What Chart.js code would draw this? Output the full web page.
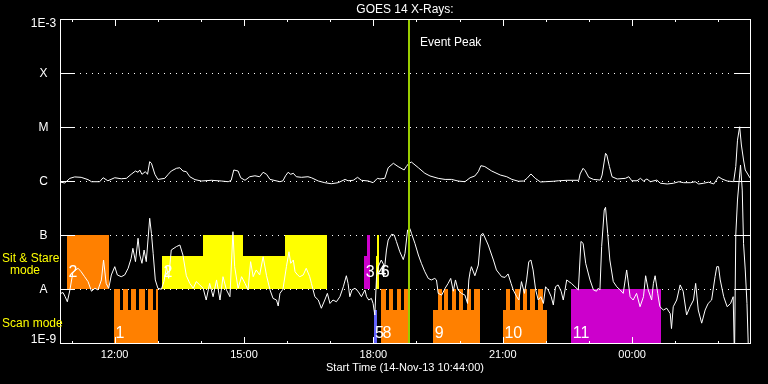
<!DOCTYPE html>
<html><head><meta charset="utf-8">
<style>html,body{margin:0;padding:0;background:#000;}canvas{display:block;}</style>
<script src="https://cdn.jsdelivr.net/npm/chart.js@4/dist/chart.umd.min.js"></script>
</head><body>
<canvas id="c" width="768" height="384"></canvas>
<script>
// ---- data (x = hours since start 14-Nov-13 10:44) ----
const chartTitle = 'GOES 14 X-Rays:';
const startLabel = 'Start Time (14-Nov-13 10:44:00)';
const startMinuteOfDay = 10 * 60 + 44;
const spanHours = 16;

const longTimes = [
 0.02,0.11,0.23,0.34,0.49,0.65,0.73,0.92,1.00,1.11,
 1.27,1.42,1.54,1.65,1.75,1.81,1.85,1.90,1.98,2.03,
 2.08,2.12,2.20,2.27,2.43,2.51,2.58,2.70,2.78,2.85,
 2.93,3.01,3.13,3.28,3.51,3.74,3.90,3.97,4.03,4.13,
 4.19,4.29,4.40,4.52,4.63,4.71,4.79,4.87,5.10,5.17,
 5.23,5.29,5.35,5.41,5.48,5.60,5.75,5.83,5.99,6.14,
 6.29,6.45,6.61,6.68,6.80,6.90,6.99,7.15,7.26,7.36,
 7.42,7.53,7.61,7.73,7.84,7.98,8.03,8.09,8.15,8.31,
 8.46,8.58,8.77,8.93,9.08,9.23,9.39,9.51,9.62,9.70,
 9.76,9.85,10.01,10.21,10.36,10.48,10.63,10.75,10.83,10.92,
 11.02,11.14,11.25,11.45,11.56,11.76,12.03,12.06,12.13,12.18,
 12.26,12.37,12.53,12.57,12.65,12.68,12.74,12.80,12.92,13.11,
 13.19,13.26,13.38,13.46,13.53,13.61,13.69,13.84,13.92,14.08,
 14.23,14.35,14.46,14.62,14.73,14.81,14.93,15.04,15.16,15.27,
 15.35,15.47,15.62,15.67,15.71,15.76,15.80,15.85,15.89,16.00];
const longFlux = [
 9.5e-7,9.2e-7,1.12e-6,1.19e-6,1.17e-6,1.06e-6,9.7e-7,9.7e-7,1.15e-6,1.01e-6,
 1.15e-6,1.10e-6,1.12e-6,1.33e-6,1.53e-6,1.45e-6,1.60e-6,1.33e-6,1.49e-6,1.33e-6,
 2.28e-6,2.13e-6,1.33e-6,1.07e-6,1.12e-6,1.33e-6,1.53e-6,1.72e-6,1.76e-6,1.53e-6,
 1.49e-6,1.20e-6,1.06e-6,1.00e-6,1.03e-6,1.00e-6,9.7e-7,1.03e-6,1.60e-6,1.53e-6,
 1.15e-6,1.03e-6,1.20e-6,1.25e-6,1.20e-6,1.45e-6,1.33e-6,1.07e-6,9.7e-7,1.01e-6,
 1.25e-6,1.45e-6,1.33e-6,1.39e-6,1.20e-6,1.17e-6,1.20e-6,1.15e-6,1.00e-6,9.3e-7,
 8.9e-7,9.3e-7,1.07e-6,1.01e-6,1.03e-6,1.17e-6,1.03e-6,1.00e-6,9.3e-7,1.12e-6,
 1.09e-6,1.12e-6,1.76e-6,2.13e-6,1.85e-6,1.60e-6,1.85e-6,2.13e-6,2.24e-6,1.76e-6,
 1.39e-6,1.24e-6,1.12e-6,1.07e-6,1.07e-6,1.00e-6,9.7e-7,1.15e-6,1.24e-6,1.49e-6,
 1.92e-6,1.85e-6,1.53e-6,1.29e-6,1.20e-6,1.07e-6,9.9e-7,1.00e-6,1.12e-6,1.35e-6,
 1.12e-6,9.6e-7,9.7e-7,9.9e-7,1.01e-6,1.03e-6,1.03e-6,1.35e-6,1.72e-6,1.55e-6,
 1.17e-6,1.07e-6,1.04e-6,1.29e-6,3.26e-6,3.03e-6,1.85e-6,1.20e-6,1.09e-6,1.12e-6,
 1.20e-6,1.01e-6,1.01e-6,1.12e-6,1.00e-6,1.09e-6,9.7e-7,1.04e-6,9.1e-7,8.8e-7,
 9.1e-7,9.7e-7,9.3e-7,9.3e-7,9.7e-7,8.8e-7,9.1e-7,9.5e-7,8.8e-7,1.20e-6,
 1.09e-6,1.00e-6,9.7e-7,1.85e-6,5.7e-6,1.01e-5,4.64e-6,2.45e-6,1.60e-6,1.14e-6];

const shortTimes = [
 0.02,0.07,0.12,0.17,0.23,0.30,0.42,0.49,0.57,0.65,
 0.73,0.81,0.88,0.96,1.01,1.07,1.13,1.19,1.27,1.33,
 1.42,1.50,1.58,1.65,1.69,1.75,1.81,1.85,1.90,1.95,
 2.00,2.04,2.08,2.12,2.16,2.21,2.27,2.35,2.41,2.47,
 2.52,2.58,2.70,2.78,2.85,2.93,3.01,3.09,3.16,3.24,
 3.32,3.39,3.47,3.55,3.63,3.71,3.78,3.86,3.94,4.01,
 4.05,4.13,4.21,4.29,4.36,4.42,4.48,4.55,4.63,4.71,
 4.79,4.87,4.94,5.02,5.06,5.10,5.17,5.25,5.31,5.35,
 5.41,5.45,5.51,5.56,5.64,5.71,5.79,5.83,5.91,5.99,
 6.06,6.14,6.20,6.26,6.33,6.41,6.49,6.57,6.64,6.68,
 6.72,6.77,6.84,6.91,6.99,7.07,7.11,7.16,7.22,7.26,
 7.30,7.34,7.38,7.45,7.53,7.57,7.61,7.69,7.75,7.80,
 7.88,7.96,8.00,8.06,8.11,8.15,8.23,8.31,8.38,8.46,
 8.54,8.61,8.69,8.73,8.77,8.85,8.93,9.00,9.06,9.12,
 9.17,9.23,9.31,9.39,9.45,9.48,9.51,9.54,9.62,9.70,
 9.76,9.81,9.93,10.05,10.12,10.21,10.24,10.32,10.39,10.46,
 10.51,10.59,10.64,10.70,10.77,10.82,10.87,10.92,10.97,11.03,
 11.09,11.15,11.21,11.26,11.32,11.39,11.44,11.49,11.55,11.62,
 11.67,11.75,11.80,11.86,11.94,12.02,12.08,12.13,12.19,12.23,
 12.29,12.37,12.44,12.48,12.52,12.56,12.62,12.65,12.70,12.75,
 12.83,12.91,12.99,13.06,13.14,13.22,13.29,13.37,13.45,13.53,
 13.58,13.64,13.72,13.76,13.80,13.86,13.91,13.99,14.07,14.15,
 14.18,14.22,14.30,14.38,14.45,14.53,14.61,14.69,14.74,14.80,
 14.88,14.96,15.03,15.11,15.19,15.23,15.27,15.31,15.39,15.47,
 15.55,15.61,15.64,15.67,15.71,15.78,15.82,15.85,15.89,15.93,
 15.97,16.00];
const shortFlux = [
 8.3e-9,8.6e-9,7.2e-9,5.8e-9,9.6e-9,2.06e-8,2.42e-8,2.09e-8,1.69e-8,1.37e-8,
 9.1e-9,1.03e-8,9.6e-9,1.47e-8,3.44e-8,1.27e-8,1.03e-8,1.82e-8,2.59e-8,1.82e-8,
 1.69e-8,1.82e-8,2.42e-8,3.70e-8,5.67e-8,3.21e-8,8.7e-8,4.26e-8,2.99e-8,5.27e-8,
 3.21e-8,8.07e-8,2.04e-7,1.07e-7,4.58e-8,1.47e-8,1.03e-8,9.9e-9,1.37e-8,2.59e-8,
 1.57e-8,5.27e-8,6.1e-8,6.52e-8,4.26e-8,1.76e-8,1.27e-8,1.03e-8,1.37e-8,1.19e-8,
 1.03e-8,6.25e-9,1.27e-8,7.2e-9,1.47e-8,6.25e-9,1.69e-8,9.6e-9,7.2e-9,1.15e-7,
 2.59e-8,1.03e-8,1.69e-8,1.27e-8,9.6e-9,3.21e-8,1.69e-8,2.25e-8,1.82e-8,3.96e-8,
 1.76e-8,9.6e-9,6.7e-9,6.25e-9,4.84e-9,8.3e-9,9.9e-9,2.59e-8,4.89e-8,2.99e-8,
 3.44e-8,2.09e-8,1.82e-8,1.69e-8,1.82e-8,2.42e-8,1.69e-8,1.27e-8,7.2e-9,6.25e-9,
 4.4e-9,6.25e-9,8.3e-9,5.4e-9,6.25e-9,5.8e-9,7.2e-9,1.10e-8,1.76e-8,1.27e-8,
 7.2e-9,9.6e-9,1.03e-8,9.1e-9,7.2e-9,9.6e-9,7.2e-9,6.25e-9,6.7e-9,5.4e-9,
 3.3e-9,1.69e-8,2.59e-8,3.44e-8,2.59e-8,5.27e-8,8.07e-8,1.03e-7,1.0e-7,7.6e-8,
 4.89e-8,3.5e-8,4.58e-8,1.24e-7,1.33e-7,1.07e-7,7.0e-8,4.26e-8,2.99e-8,2.09e-8,
 1.57e-8,1.47e-8,1.57e-8,1.47e-8,8.3e-9,7.7e-9,1.03e-8,1.27e-8,1.57e-8,9.1e-9,
 1.47e-8,9.6e-9,8.3e-9,7.7e-9,5.4e-9,1.47e-8,2.09e-8,2.59e-8,1.76e-8,2.78e-8,
 1.0e-7,1.07e-7,6.52e-8,3.44e-8,2.25e-8,1.82e-8,1.69e-8,1.64e-8,1.90e-8,1.27e-8,
 9.6e-9,7.2e-9,6.25e-9,1.37e-8,8.3e-9,1.47e-8,3.21e-8,3.44e-8,2.25e-8,9.6e-9,
 6.25e-9,7.2e-9,5.4e-9,1.10e-8,9.6e-9,7.2e-9,5.05e-9,1.10e-8,1.19e-8,9.1e-9,
 6.25e-9,1.47e-8,1.37e-8,1.27e-8,1.10e-8,9.6e-9,7.6e-8,7.0e-8,2.99e-8,2.25e-8,
 1.47e-8,9.6e-9,9.1e-9,1.03e-8,9.6e-9,6.1e-8,2.90e-7,3.26e-7,1.07e-7,3.44e-8,
 1.37e-8,1.10e-8,9.6e-9,8.3e-9,2.25e-8,7.2e-9,6.25e-9,8.3e-9,4.7e-9,7.2e-9,
 1.76e-8,9.6e-9,6.25e-9,1.27e-8,1.76e-8,8.3e-9,4.7e-9,4.08e-9,4.4e-9,3.5e-9,
 1.85e-9,4.7e-9,6.25e-9,1.19e-8,9.1e-9,3.3e-9,4.7e-9,6.25e-9,1.27e-8,4.08e-9,
 2.33e-9,4.08e-9,5.4e-9,6.25e-9,1.69e-8,2.59e-8,2.59e-8,1.47e-8,7.2e-9,4.7e-9,
 5.4e-9,7.2e-9,5e-10,1e-7,4.45e-7,1.98e-6,6.8e-7,7.0e-8,2.25e-8,5.4e-9,
 5e-10,5e-10];

const yTickValues = [1e-9,1e-8,1e-7,1e-6,1e-5,1e-4,1e-3];
const yTickLabels = ['1E-9','A','B','C','M','X','1E-3'];
const xTickValues = [1.2667,4.2667,7.2667,10.2667,13.2667];
const xTickLabels = ['12:00','15:00','18:00','21:00','00:00'];
const eventPeakTime = 8.10;
const eventPeakLabel = 'Event Peak';

// Sit & Stare mode segments (band A..B)
const sitStart = [0.162,2.367,3.325,4.253,5.220,7.053,7.123,7.325,7.362];
const sitEnd   = [1.130,3.325,4.253,5.220,6.188,7.123,7.186,7.362,7.401];
const sitTop   = [1e-7,4.1e-8,1e-7,4.1e-8,1e-7,4.1e-8,1e-7,4.1e-8,1e-7];
const sitKind  = ['orange','yellow','yellow','yellow','yellow','magenta','magenta','yellow','yellow'];
const sitLabelText = ['2','2','3','4','6'];
const sitLabelTime = [0.162,2.367,7.053,7.325,7.40];

// Scan mode blocks (band 1E-9..A)
const scanStart = [1.253,7.270,7.441,8.654,10.271,11.856];
const scanEnd   = [2.267,7.355,8.074,9.738,11.283,13.944];
const scanKind  = ['orange','blue','orange','orange','orange','magenta'];
const scanLabel = ['1','5','8','9','10','11'];
const scanTeeth = [
  [[1.253,1.381],[1.450,1.575],[1.645,1.770],[1.840,1.965],[2.035,2.160],[2.230,2.267]],
  [],
  [[7.441,7.548],[7.626,7.726],[7.803,7.905],[7.981,8.074]],
  [[8.754,8.847],[8.909,9.002],[9.079,9.172],[9.251,9.350],[9.427,9.529],[9.606,9.738]],
  [[10.348,10.441],[10.557,10.661],[10.731,10.835],[10.905,11.005],[11.090,11.199]],
  [[11.856,13.944]]
];
const scanBaseTop = 4.1e-9;

// ---- styles ----
const COLORS = {orange:'#ff8000', yellow:'#ffff00', magenta:'#cc00cc', blue:'#6464ff'};
const FONT = "'Liberation Sans', Arial, sans-serif";

function px(v){ return Math.round(v); }

const goesPlugin = {
  id: 'goes',
  beforeDraw(chart){
    const c = chart.ctx; c.save(); c.fillStyle = '#000'; c.fillRect(0,0,chart.width,chart.height); c.restore();
  },
  beforeDatasetsDraw(chart){
    const c = chart.ctx, a = chart.chartArea, xs = chart.scales.x, ys = chart.scales.y;
    c.save();
    c.fillStyle = '#fff';
    yTickValues.slice(1, -1).forEach(v => {
      const py = px(ys.getPixelForValue(v));
      for (let xx = a.left + 2; xx < a.right; xx += 6) c.fillRect(xx, py, 1, 1);
    });
    const box = (t0, t1, f0, f1, col) => {
      const x0 = px(xs.getPixelForValue(t0)), x1 = px(xs.getPixelForValue(t1));
      const y0 = px(ys.getPixelForValue(f1)), y1 = px(ys.getPixelForValue(f0));
      c.fillStyle = col; c.fillRect(x0, y0, Math.max(1, x1 - x0), y1 - y0);
    };
    sitStart.forEach((s, i) => box(s, sitEnd[i], 1e-8, sitTop[i], COLORS[sitKind[i]]));
    scanStart.forEach((s, i) => {
      box(s, scanEnd[i], 1e-9, scanBaseTop, COLORS[scanKind[i]]);
      scanTeeth[i].forEach(t => box(t[0], t[1], scanBaseTop, 1e-8, COLORS[scanKind[i]]));
    });
    c.fillStyle = '#fff';
    c.font = "16px 'Liberation Sans', sans-serif";
    c.textAlign = 'left'; c.textBaseline = 'middle';
    const sitY = ys.getPixelForValue(1e-8) - 16;
    sitLabelText.forEach((t, i) => c.fillText(t, xs.getPixelForValue(sitLabelTime[i]) + 1.5, sitY));
    const scanY = a.bottom - 9.5;
    scanLabel.forEach((t, i) => c.fillText(t, xs.getPixelForValue(scanStart[i]) + 1.5, scanY));
    c.restore();
  },
  afterDatasetsDraw(chart){
    const c = chart.ctx, a = chart.chartArea, xs = chart.scales.x, ys = chart.scales.y;
    c.save();
    const ex = px(xs.getPixelForValue(eventPeakTime));
    c.fillStyle = '#9acd00';
    c.fillRect(ex - 1, a.top + 1, 2, a.bottom - a.top - 1);
    c.fillStyle = '#fff';
    const L = px(a.left), R = px(a.right), T = px(a.top), B = px(a.bottom);
    c.fillRect(L, T, R - L + 1, 1);
    c.fillRect(L, B, R - L + 1, 1);
    c.fillRect(L, T, 1, B - T + 1);
    c.fillRect(R, T, 1, B - T + 1);
    yTickValues.slice(1, -1).forEach(v => {
      const py = px(ys.getPixelForValue(v));
      c.fillRect(L, py, 15, 1);
      c.fillRect(R - 15, py, 15, 1);
    });
    const firstHour = (60 - startMinuteOfDay % 60) / 60;
    for (let t = firstHour, h = Math.ceil(startMinuteOfDay / 60); t < spanHours; t += 1, h++) {
      const xx = px(xs.getPixelForValue(t));
      const len = (h % 3 === 0) ? 7 : 3;
      c.fillRect(xx, T, 1, len);
      c.fillRect(xx, B - len + 1, 1, len);
    }
    c.font = '12px ' + FONT;
    c.textAlign = 'center'; c.textBaseline = 'middle';
    yTickValues.forEach((v, i) => {
      let py = ys.getPixelForValue(v);
      if (i === 0) py -= 4; else if (i === yTickValues.length - 1) py += 4.5;
      c.fillText(yTickLabels[i], 43.5, py + 0.5);
    });
    c.fillStyle = '#ffff00';
    c.textAlign = 'left';
    c.fillText('Sit & Stare', 2, 258.5);
    c.textAlign = 'center';
    c.fillText('mode', 25, 271);
    c.textAlign = 'left';
    c.fillText('Scan mode', 2, 324);
    c.fillStyle = '#fff';
    c.font = '12px ' + FONT;
    c.textAlign = 'center';
    c.fillText(chartTitle, (a.left + a.right) / 2, 10);
    c.textAlign = 'left';
    c.fillText(eventPeakLabel, ex + 11, 43);
    c.restore();
  }
};

const lineStyle = {borderColor:'#fff', borderWidth:1, pointRadius:0, tension:0, fill:false};

new Chart(document.getElementById('c'), {
  type: 'line',
  data: { datasets: [
    Object.assign({label:'1-8 A', data: longTimes.map((t, i) => ({x:t, y:longFlux[i]}))}, lineStyle),
    Object.assign({label:'0.5-4 A', data: shortTimes.map((t, i) => ({x:t, y:shortFlux[i]}))}, lineStyle)
  ]},
  options: {
    responsive:false, animation:false, devicePixelRatio:1,
    layout:{padding:{left:60, right:18, top:19, bottom:0}},
    plugins:{legend:{display:false}, tooltip:{enabled:false}, title:{display:false}},
    scales:{
      x:{type:'linear', min:0, max:spanHours, position:'bottom',
         grid:{display:false, drawTicks:false}, border:{display:false},
         afterBuildTicks: s => { s.ticks = xTickValues.map(v => ({value:v})); },
         afterFit: s => { s.height = 41; },
         ticks:{color:'#fff', font:{family:FONT, size:11}, padding:5, maxRotation:0, autoSkip:false,
                callback:(v, i) => xTickLabels[i]},
         title:{display:true, text:startLabel, color:'#fff', font:{family:FONT, size:11}, padding:{top:0, bottom:9}}
      },
      y:{type:'logarithmic', min:1e-9, max:1e-3, display:false}
    }
  },
  plugins:[goesPlugin]
});
</script>
</body></html>
